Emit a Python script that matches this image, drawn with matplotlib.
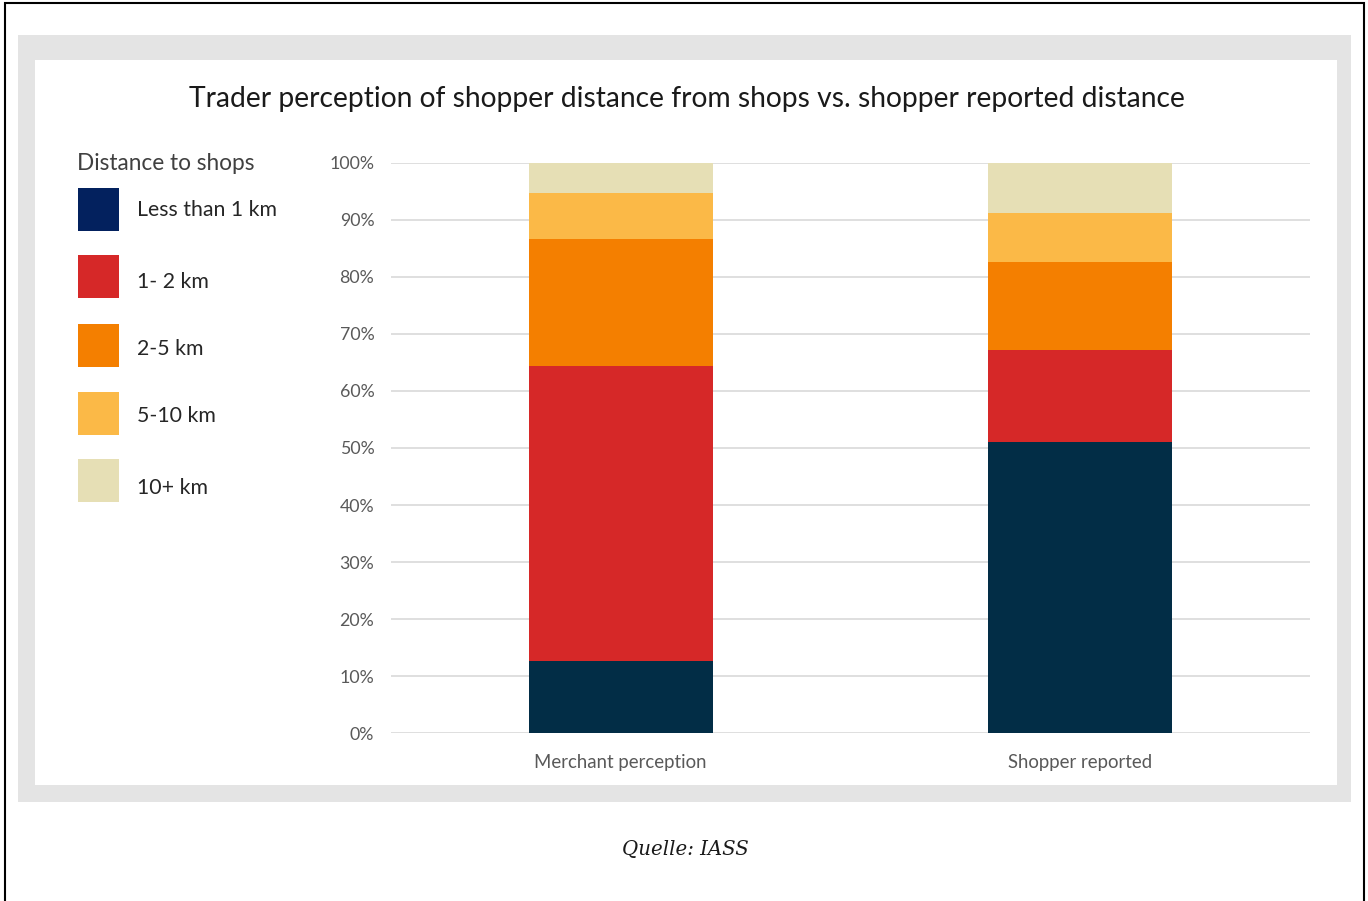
import matplotlib
matplotlib.use("Agg")
import matplotlib.pyplot as plt
from matplotlib.patches import Rectangle
import numpy as np

categories = ["Merchant perception", "Shopper reported"]
series_names = ["Less than 1 km", "1- 2 km", "2-5 km", "5-10 km", "10+ km"]
less_1km = [12.6, 51.1]
km_1_2 = [51.8, 16.1]
km_2_5 = [22.2, 15.4]
km_5_10 = [8.1, 8.5]
km_10_plus = [5.3, 8.9]
yticks = [0, 10, 20, 30, 40, 50, 60, 70, 80, 90, 100]
ytick_labels = [f"{v}%" for v in yticks]

series = [less_1km, km_1_2, km_2_5, km_5_10, km_10_plus]
bar_colors = ["#022d46", "#d62828", "#f47f00", "#fbb947", "#e6dfb5"]
legend_colors = ["#03215e", "#d62828", "#f47f00", "#fbb947", "#e6dfb5"]

W, H = 1368, 901
fig = plt.figure(figsize=(W / 100, H / 100), dpi=100)
fig.patch.set_facecolor("white")

def fx(px):
    return px / W

def fy(py):
    return 1 - py / H

# frames
fig.patches.append(Rectangle((fx(5), fy(915)), fx(1364) - fx(5), fy(3) - fy(915),
                             transform=fig.transFigure, facecolor="white",
                             edgecolor="black", linewidth=1.5, zorder=-10))
fig.patches.append(Rectangle((fx(18), fy(802)), fx(1351) - fx(18), fy(35) - fy(802),
                             transform=fig.transFigure, facecolor="#e4e4e4",
                             edgecolor="none", zorder=-9))
fig.patches.append(Rectangle((fx(35), fy(785)), fx(1337) - fx(35), fy(60) - fy(785),
                             transform=fig.transFigure, facecolor="white",
                             edgecolor="none", zorder=-8))

ax = fig.add_axes([fx(391), fy(733.3), fx(1310) - fx(391), fy(162.7) - fy(733.3)])
ax.set_zorder(1)
ax.set_facecolor("none")
x = np.arange(len(categories))
bottom = np.zeros(len(categories))
for vals, col, name in zip(series, bar_colors, series_names):
    ax.bar(x, vals, width=0.4, bottom=bottom, color=col, label=name, zorder=3)
    bottom += np.array(vals)

ax.set_xlim(-0.5, 1.5)
ax.set_ylim(0, 100)
ax.set_yticks(yticks)
ax.set_yticklabels(ytick_labels)
ax.set_xticks(x)
ax.set_xticklabels(categories)
ax.yaxis.grid(True, color="#d9d9d9", linewidth=1.2, zorder=0)
ax.set_axisbelow(True)
for s in ax.spines.values():
    s.set_visible(False)
ax.tick_params(axis="both", length=0, colors="#595959")
ax.tick_params(axis="y", pad=12, labelsize=12.8)
ax.tick_params(axis="x", pad=15, labelsize=13.4)
for lab in ax.get_xticklabels() + ax.get_yticklabels():
    lab.set_fontfamily("Lato")
    lab.set_color("#595959")

# title
fig.text(fx(687), fy(99), "Trader perception of shopper distance from shops vs. shopper reported distance",
         ha="center", va="center", fontsize=20.3, family="Lato", color="#1a1a1a")

# legend
fig.text(fx(77), fy(163), "Distance to shops", ha="left", va="center",
         fontsize=16.3, family="Lato", color="#404040")
leg_tops = [188, 255, 324, 392, 459]
leg_text_y = [210, 282, 349, 416, 488]
for name, col, top, ty in zip(series_names, legend_colors, leg_tops, leg_text_y):
    fig.patches.append(Rectangle((fx(78), fy(top + 43)), fx(119) - fx(78), fy(top) - fy(top + 43),
                                 transform=fig.transFigure, facecolor=col,
                                 edgecolor="none", zorder=2))
    fig.text(fx(137), fy(ty), name, ha="left", va="center",
             fontsize=15.3, family="Lato", color="#262626")

fig.text(fx(685), fy(850), "Quelle: IASS", ha="center", va="center",
         fontsize=14.2, family="DejaVu Serif", style="italic", color="#1a1a1a")

fig.savefig("out.png", dpi=100)
